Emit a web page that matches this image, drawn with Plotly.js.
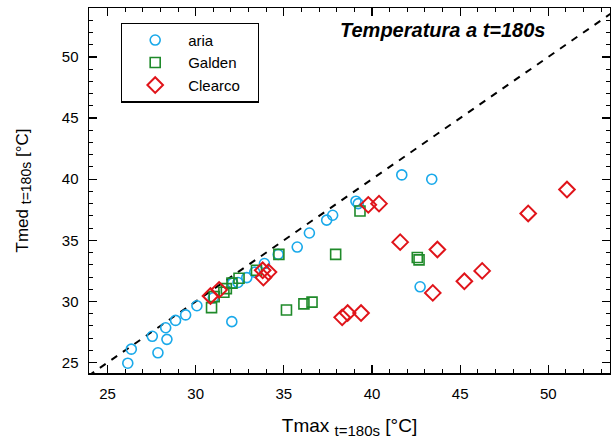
<!DOCTYPE html>
<html>
<head>
<meta charset="utf-8">
<script src="https://cdn.plot.ly/plotly-3.0.1.min.js"></script>
<style>html,body{margin:0;padding:0;background:#fff;}#chart{width:611px;height:441px;}</style>
</head>
<body>
<div id="chart"></div>
<script>
// Data
const ariaX = [26.15, 26.35, 27.86, 27.54, 28.37, 28.3, 28.86, 29.43, 30.07, 31.0, 32.05, 32.1, 32.4, 32.9, 33.35, 33.9, 34.68, 35.76, 36.45, 37.43, 37.77, 39.09, 39.22, 41.69, 43.39, 42.73];
const ariaY = [24.95, 26.1, 25.8, 27.15, 26.9, 27.85, 28.45, 28.9, 29.65, 30.3, 28.35, 31.5, 31.55, 31.95, 32.4, 33.1, 33.85, 34.45, 35.6, 36.65, 37.05, 38.2, 38.0, 40.35, 40.0, 31.2];
const galdenX = [30.9, 31.05, 31.6, 31.74, 32.06, 32.46, 33.45, 34.72, 35.15, 36.14, 36.6, 37.94, 39.32, 42.57, 42.67];
const galdenY = [29.5, 30.4, 30.75, 31.05, 31.5, 31.9, 32.55, 33.85, 29.3, 29.8, 29.95, 33.85, 37.4, 33.6, 33.4];
const clearcoX = [30.84, 31.33, 33.8, 34.13, 33.84, 38.31, 38.62, 39.38, 39.79, 40.4, 41.6, 43.71, 43.45, 45.24, 46.25, 48.86, 51.06];
const clearcoY = [30.45, 30.95, 32.55, 32.4, 31.95, 28.7, 29.05, 29.05, 37.9, 38.0, 34.85, 34.25, 30.7, 31.65, 32.5, 37.2, 39.15];
const refLine = [20, 60];
const seriesNames = ['aria', 'Galden', 'Clearco'];
const xRange = [23.95, 53.5];
const yRange = [24.15, 54.0];

const font = 'Liberation Sans, Arial, Helvetica, sans-serif';
const pad = '\u00a0\u00a0\u00a0';
const traces = [
  {x: refLine, y: refLine, mode: 'lines', line: {color: '#000', width: 2, dash: '7px,7px'}, showlegend: false, hoverinfo: 'skip'},
  {x: ariaX, y: ariaY, name: seriesNames[0], mode: 'markers', type: 'scatter',
   marker: {symbol: 'circle-open', size: 10, color: '#19a9ea', line: {width: 1.6, color: '#19a9ea'}}},
  {x: galdenX, y: galdenY, name: seriesNames[1], mode: 'markers', type: 'scatter',
   marker: {symbol: 'square-open', size: 10, color: '#1f8a2a', line: {width: 1.6, color: '#1f8a2a'}}},
  {x: clearcoX, y: clearcoY, name: seriesNames[2] + pad, mode: 'markers', type: 'scatter',
   marker: {symbol: 'diamond-open', size: 12, color: '#e0141a', line: {width: 2, color: '#e0141a'}}}
];

const axisCommon = {
  showgrid: false, zeroline: false, showline: true, linecolor: '#000', linewidth: 1.5,
  mirror: 'allticks', ticks: 'inside', ticklen: 8, tickwidth: 1.2, tickcolor: '#000',
  dtick: 5, tick0: 0,
  minor: {dtick: 1, ticks: 'inside', ticklen: 4, tickwidth: 1, tickcolor: '#000'},
  tickfont: {family: font, size: 15, color: '#000'},
  ticklabelstandoff: 6
};

const layout = {
  width: 611, height: 441,
  margin: {l: 89, r: 1, t: 8, b: 68},
  paper_bgcolor: '#fff', plot_bgcolor: '#fff',
  font: {family: font, color: '#000'},
  xaxis: Object.assign({}, axisCommon, {range: xRange,
    title: {text: 'Tmax <sub><span style="font-size:15px">t=180s</span></sub> [°C]', font: {family: font, size: 19}, standoff: 18}}),
  yaxis: Object.assign({}, axisCommon, {range: yRange,
    title: {text: 'Tmed <sub><span style="font-size:14px">t=180s</span></sub> [°C]', font: {family: font, size: 17}, standoff: 29}}),
  showlegend: true,
  legend: {x: 0.0614, y: 0.96, xanchor: 'left', yanchor: 'top', bgcolor: '#fff',
    bordercolor: '#000', borderwidth: 1.2, font: {family: font, size: 15}, tracegroupgap: 0,
    itemwidth: 56},
  annotations: [{
    xref: 'paper', yref: 'paper', x: 0.678, y: 0.94, xanchor: 'center', yanchor: 'middle',
    text: '<b><i>Temperatura a t=180s</i></b>', showarrow: false,
    font: {family: font, size: 20, color: '#000'}
  }]
};

Plotly.newPlot('chart', traces, layout, {displayModeBar: false, staticPlot: true});
</script>
</body>
</html>
